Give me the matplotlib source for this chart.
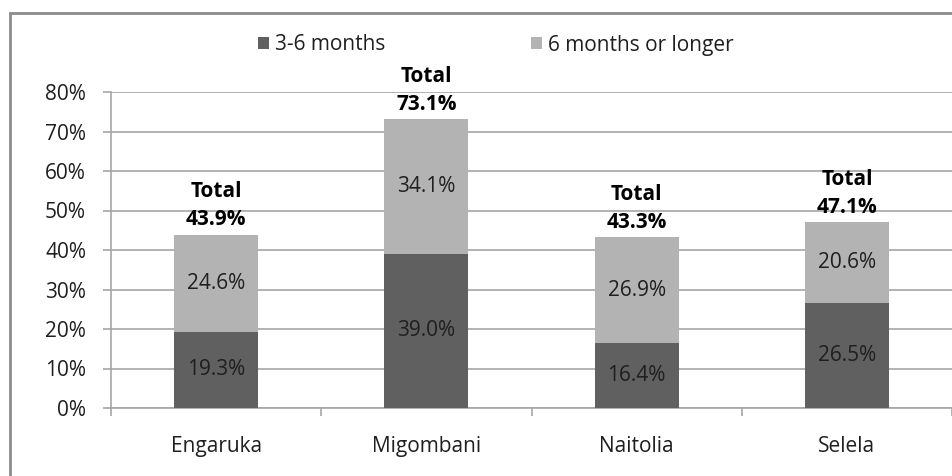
import matplotlib.pyplot as plt
import numpy as np

# data
villages = ['Engaruka', 'Migombani', 'Naitolia', 'Selela']
short_term = [19.3, 39.0, 16.4, 26.5]    # 3-6 months
long_term = [24.6, 34.1, 26.9, 20.6]     # 6 months or longer
totals = [43.9, 73.1, 43.3, 47.1]
y_ticks = [0, 10, 20, 30, 40, 50, 60, 70, 80]

dark = '#606060'
light = '#b3b3b3'
grid_c = '#a6a6a6'
text_c = '#1f1f1f'
fs = 15

plt.rcParams['font.family'] = ['Open Sans', 'DejaVu Sans']

fig = plt.figure(figsize=(9.52, 4.76), dpi=100)
ax = fig.add_axes([111 / 952, 1 - 408 / 476, 1 - 111 / 952, (408 - 92) / 476])

x = np.arange(len(villages))
width = 0.4
b1 = ax.bar(x, short_term, width, color=dark, label='3-6 months', zorder=3)
b2 = ax.bar(x, long_term, width, bottom=short_term, color=light,
            label='6 months or longer', zorder=3)

# segment labels
for i in range(len(villages)):
    ax.text(x[i], short_term[i] / 2, f'{short_term[i]:.1f}%', ha='center',
            va='center', fontsize=fs, color=text_c, zorder=4)
    ax.text(x[i], short_term[i] + long_term[i] / 2, f'{long_term[i]:.1f}%',
            ha='center', va='center', fontsize=fs, color=text_c, zorder=4)
    ax.annotate(f'Total\n{totals[i]:.1f}%', (x[i], totals[i]),
                xytext=(0, 3), textcoords='offset points', ha='center',
                va='bottom', fontsize=fs, fontweight='bold', color='black',
                linespacing=1.45, zorder=4)

ax.set_xlim(-0.5, len(villages) - 0.5)
ax.set_ylim(0, 80)
ax.set_yticks(y_ticks)
ax.set_yticklabels([f'{t}%' for t in y_ticks], fontsize=fs, color=text_c)
ax.set_xticks(x)
ax.set_xticklabels(villages, fontsize=fs, color=text_c)
ax.tick_params(axis='x', which='major', length=0, pad=20)
ax.set_xticks(np.arange(len(villages) + 1) - 0.5, minor=True)
ax.tick_params(axis='x', which='minor', length=6, color=grid_c, width=1.2)
ax.tick_params(axis='y', length=6, color=grid_c, width=1.2, pad=12)

ax.yaxis.grid(True, color=grid_c, linewidth=1.2, zorder=0)
for s in ['top', 'right']:
    ax.spines[s].set_visible(False)
for s in ['left', 'bottom']:
    ax.spines[s].set_color(grid_c)
    ax.spines[s].set_linewidth(1.2)

fig.legend(handles=[b1, b2], loc='center left', bbox_to_anchor=(258 / 952, 1 - 45 / 476),
           ncol=2, frameon=False, fontsize=fs, handlelength=0.55, handleheight=0.55,
           handletextpad=0.25, columnspacing=7.0, labelcolor=text_c,
           borderaxespad=0, borderpad=0)

# chart border
fig.patches.append(plt.Rectangle((10 / 952, -0.01), 1.0, 1 - 13 / 476 + 0.01,
                                 transform=fig.transFigure, fill=False,
                                 edgecolor='#8c8c8c', linewidth=2))

fig.savefig('out.png', dpi=100)
